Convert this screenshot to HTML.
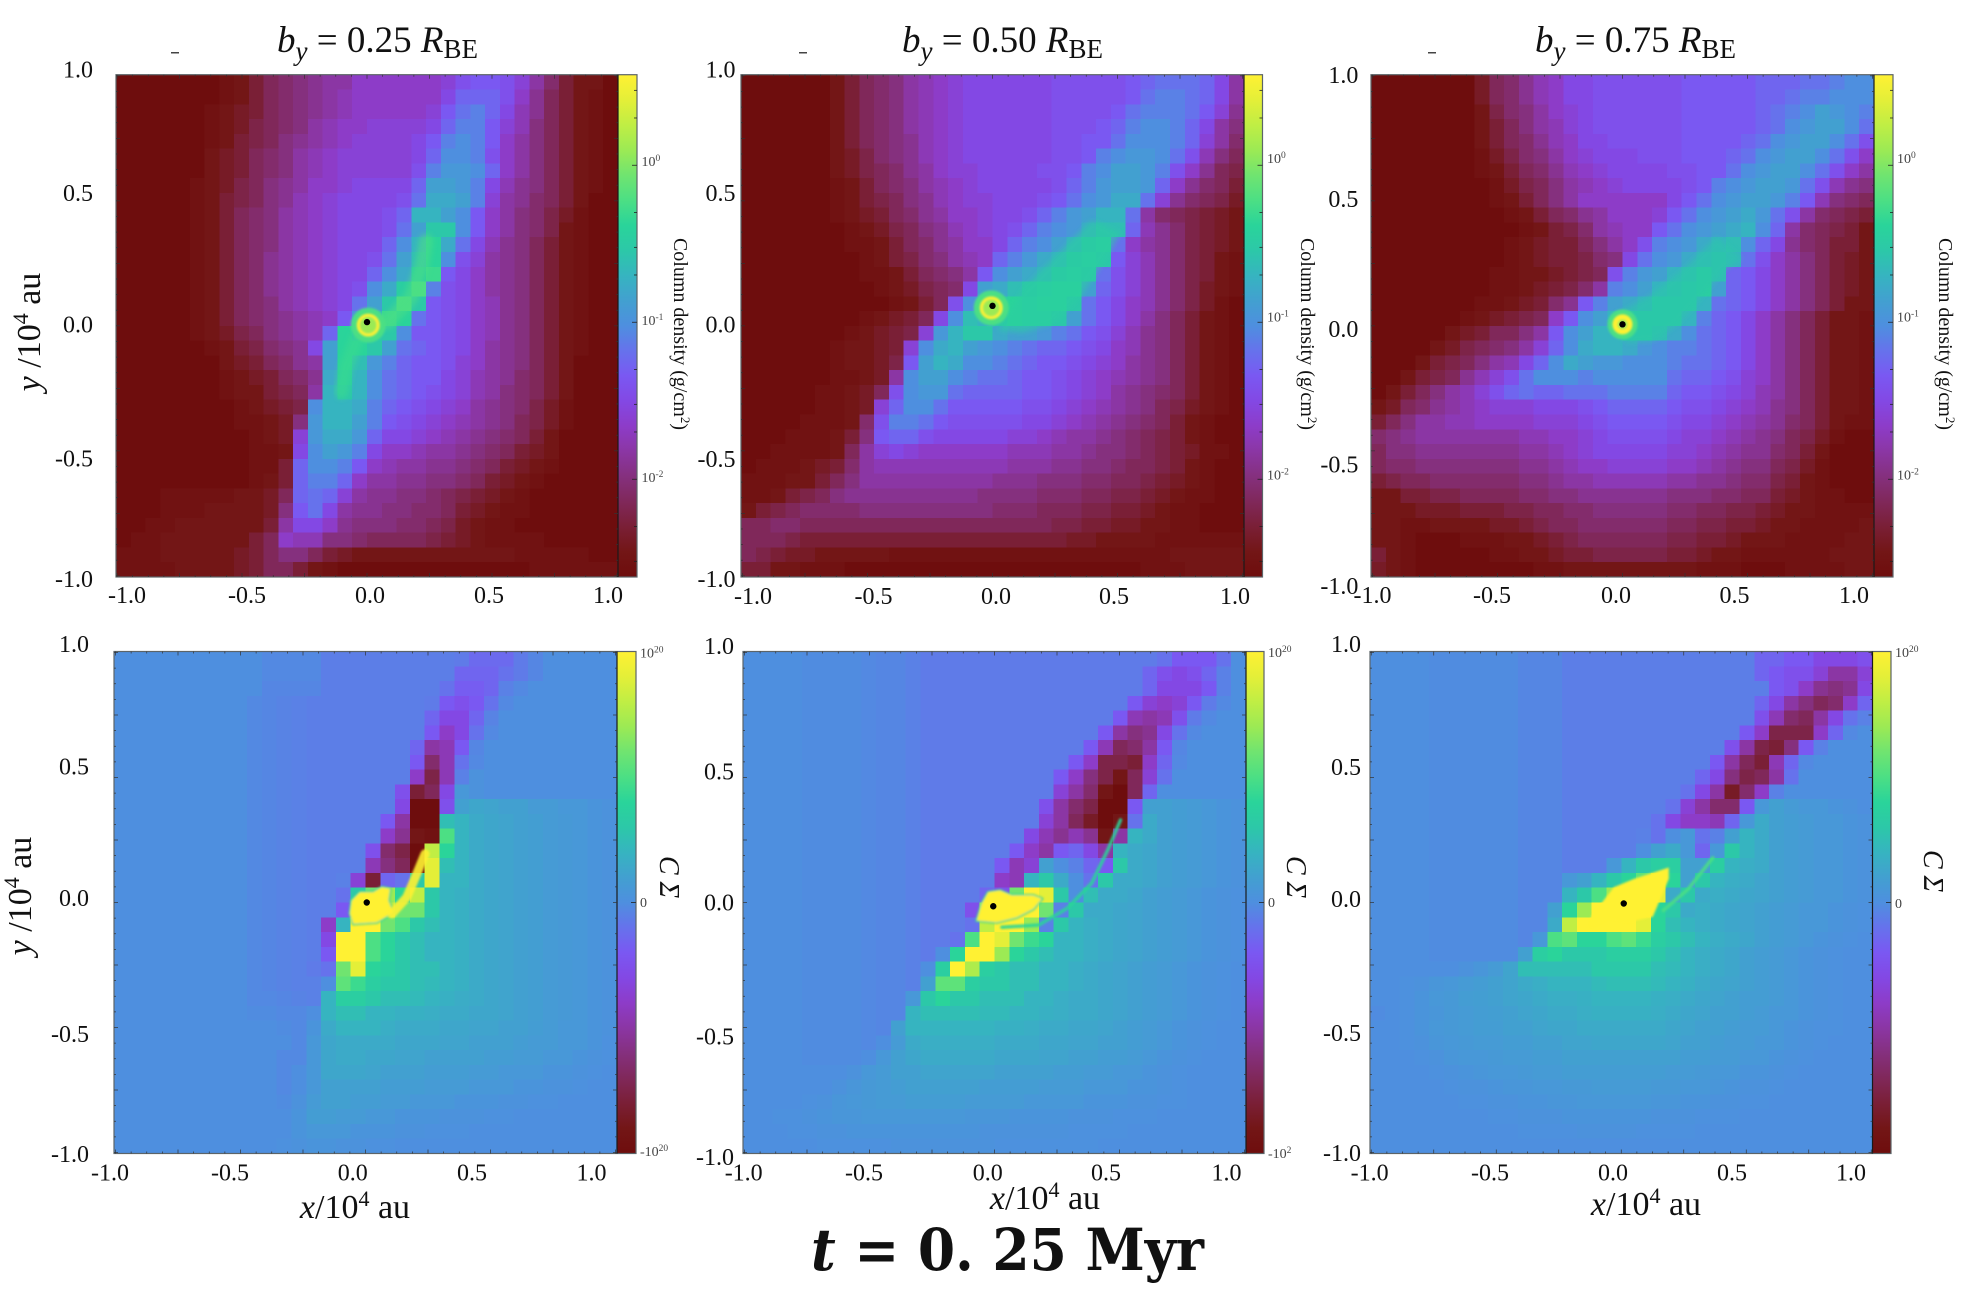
<!DOCTYPE html>
<html lang="en">
<head>
<meta charset="utf-8">
<title>t = 0.25 Myr column density and C Sigma maps</title>
<style>
html,body{margin:0;padding:0;background:#fff;}
svg{display:block;}
text{font-family:"Liberation Serif",serif;fill:#111;}
.tick{font-size:24px;}
.cb{font-size:14px;fill:#444;}
.ax{font-size:34px;}
</style>
</head>
<body>
<svg id="figure" width="1968" height="1290" viewBox="0 0 1968 1290" xmlns="http://www.w3.org/2000/svg">
<defs>
<linearGradient id="cbarGradient" x1="0" y1="1" x2="0" y2="0"></linearGradient>
<filter id="soft" x="-30%" y="-30%" width="160%" height="160%"><feGaussianBlur stdDeviation="1"/></filter>
<filter id="softer" x="-50%" y="-50%" width="200%" height="200%"><feGaussianBlur stdDeviation="3"/></filter>
</defs>
<g id="plots"></g>

<g>
<text x="277" y="52" font-size="37"><tspan font-style="italic">b</tspan><tspan font-style="italic" font-size="27" dy="8">y</tspan><tspan dy="-8"> = 0.25 </tspan><tspan font-style="italic">R</tspan><tspan font-size="27" dy="6">BE</tspan></text>
<text x="902" y="52" font-size="37"><tspan font-style="italic">b</tspan><tspan font-style="italic" font-size="27" dy="8">y</tspan><tspan dy="-8"> = 0.50 </tspan><tspan font-style="italic">R</tspan><tspan font-size="27" dy="6">BE</tspan></text>
<text x="1535" y="52" font-size="37"><tspan font-style="italic">b</tspan><tspan font-style="italic" font-size="27" dy="8">y</tspan><tspan dy="-8"> = 0.75 </tspan><tspan font-style="italic">R</tspan><tspan font-size="27" dy="6">BE</tspan></text>
<rect x="171" y="52" width="8" height="1.5" fill="#444"/>
<rect x="799" y="52" width="8" height="1.5" fill="#444"/>
<rect x="1428" y="52" width="8" height="1.5" fill="#444"/>
</g>

<g class="tick">
<text class="tick" x="93" y="77.5" text-anchor="end">1.0</text>
<text class="tick" x="93" y="201" text-anchor="end">0.5</text>
<text class="tick" x="93" y="332.6" text-anchor="end">0.0</text>
<text class="tick" x="93" y="466.5" text-anchor="end">-0.5</text>
<text class="tick" x="93" y="587" text-anchor="end">-1.0</text>
<text class="tick" x="127" y="603" text-anchor="middle">-1.0</text>
<text class="tick" x="247" y="603" text-anchor="middle">-0.5</text>
<text class="tick" x="370" y="603" text-anchor="middle">0.0</text>
<text class="tick" x="489" y="603" text-anchor="middle">0.5</text>
<text class="tick" x="608" y="603" text-anchor="middle">1.0</text>
</g>
<g>
<text class="tick" x="735.5" y="77.5" text-anchor="end">1.0</text>
<text class="tick" x="735.5" y="201" text-anchor="end">0.5</text>
<text class="tick" x="735.5" y="332.6" text-anchor="end">0.0</text>
<text class="tick" x="735.5" y="467" text-anchor="end">-0.5</text>
<text class="tick" x="735.5" y="587" text-anchor="end">-1.0</text>
<text class="tick" x="753" y="604" text-anchor="middle">-1.0</text>
<text class="tick" x="873.5" y="604" text-anchor="middle">-0.5</text>
<text class="tick" x="996" y="604" text-anchor="middle">0.0</text>
<text class="tick" x="1114" y="604" text-anchor="middle">0.5</text>
<text class="tick" x="1235" y="604" text-anchor="middle">1.0</text>
</g>
<g>
<text class="tick" x="1358.4" y="83" text-anchor="end">1.0</text>
<text class="tick" x="1358.4" y="207" text-anchor="end">0.5</text>
<text class="tick" x="1358.4" y="337" text-anchor="end">0.0</text>
<text class="tick" x="1358.4" y="472.6" text-anchor="end">-0.5</text>
<text class="tick" x="1358.4" y="594" text-anchor="end">-1.0</text>
<text class="tick" x="1372.5" y="603" text-anchor="middle">-1.0</text>
<text class="tick" x="1492" y="603" text-anchor="middle">-0.5</text>
<text class="tick" x="1616" y="603" text-anchor="middle">0.0</text>
<text class="tick" x="1734.5" y="603" text-anchor="middle">0.5</text>
<text class="tick" x="1854" y="603" text-anchor="middle">1.0</text>
</g>
<g>
<text class="tick" x="89" y="652" text-anchor="end">1.0</text>
<text class="tick" x="89" y="774.7" text-anchor="end">0.5</text>
<text class="tick" x="89" y="906" text-anchor="end">0.0</text>
<text class="tick" x="89" y="1041.8" text-anchor="end">-0.5</text>
<text class="tick" x="89" y="1162" text-anchor="end">-1.0</text>
<text class="tick" x="110" y="1180.7" text-anchor="middle">-1.0</text>
<text class="tick" x="230" y="1180.7" text-anchor="middle">-0.5</text>
<text class="tick" x="352.7" y="1180.7" text-anchor="middle">0.0</text>
<text class="tick" x="472" y="1180.7" text-anchor="middle">0.5</text>
<text class="tick" x="591.5" y="1180.7" text-anchor="middle">1.0</text>
</g>
<g>
<text class="tick" x="734" y="654" text-anchor="end">1.0</text>
<text class="tick" x="734" y="779.4" text-anchor="end">0.5</text>
<text class="tick" x="734" y="910.7" text-anchor="end">0.0</text>
<text class="tick" x="734" y="1044.6" text-anchor="end">-0.5</text>
<text class="tick" x="734" y="1165" text-anchor="end">-1.0</text>
<text class="tick" x="743.7" y="1180.5" text-anchor="middle">-1.0</text>
<text class="tick" x="864" y="1180.5" text-anchor="middle">-0.5</text>
<text class="tick" x="987.8" y="1180.5" text-anchor="middle">0.0</text>
<text class="tick" x="1106" y="1180.5" text-anchor="middle">0.5</text>
<text class="tick" x="1226.5" y="1180.5" text-anchor="middle">1.0</text>
</g>
<g>
<text class="tick" x="1361" y="652" text-anchor="end">1.0</text>
<text class="tick" x="1361" y="775" text-anchor="end">0.5</text>
<text class="tick" x="1361" y="907" text-anchor="end">0.0</text>
<text class="tick" x="1361" y="1041" text-anchor="end">-0.5</text>
<text class="tick" x="1361" y="1161" text-anchor="end">-1.0</text>
<text class="tick" x="1369.6" y="1180.5" text-anchor="middle">-1.0</text>
<text class="tick" x="1490" y="1180.5" text-anchor="middle">-0.5</text>
<text class="tick" x="1613" y="1180.5" text-anchor="middle">0.0</text>
<text class="tick" x="1732" y="1180.5" text-anchor="middle">0.5</text>
<text class="tick" x="1851" y="1180.5" text-anchor="middle">1.0</text>
</g>

<g>
<text class="ax" text-anchor="middle" transform="translate(40 332) rotate(-90)"><tspan font-style="italic">y</tspan> /10<tspan font-size="22" dy="-12">4</tspan><tspan dy="12"> au</tspan></text>
<text class="ax" text-anchor="middle" transform="translate(31 896) rotate(-90)"><tspan font-style="italic">y</tspan> /10<tspan font-size="22" dy="-12">4</tspan><tspan dy="12"> au</tspan></text>
<text class="ax" text-anchor="middle" x="355" y="1218"><tspan font-style="italic">x</tspan>/10<tspan font-size="22" dy="-12">4</tspan><tspan dy="12"> au</tspan></text>
<text class="ax" text-anchor="middle" x="1045" y="1209"><tspan font-style="italic">x</tspan>/10<tspan font-size="22" dy="-12">4</tspan><tspan dy="12"> au</tspan></text>
<text class="ax" text-anchor="middle" x="1646" y="1215"><tspan font-style="italic">x</tspan>/10<tspan font-size="22" dy="-12">4</tspan><tspan dy="12"> au</tspan></text>
</g>

<g>
<text class="cb" x="641.5" y="166">10<tspan font-size="9.5" dy="-5">0</tspan></text>
<text class="cb" x="641.5" y="325">10<tspan font-size="9.5" dy="-5">-1</tspan></text>
<text class="cb" x="641.5" y="482">10<tspan font-size="9.5" dy="-5">-2</tspan></text>
<text class="cb" x="1267" y="163">10<tspan font-size="9.5" dy="-5">0</tspan></text>
<text class="cb" x="1267" y="321.6">10<tspan font-size="9.5" dy="-5">-1</tspan></text>
<text class="cb" x="1267" y="479.6">10<tspan font-size="9.5" dy="-5">-2</tspan></text>
<text class="cb" x="1897" y="163">10<tspan font-size="9.5" dy="-5">0</tspan></text>
<text class="cb" x="1897" y="321.6">10<tspan font-size="9.5" dy="-5">-1</tspan></text>
<text class="cb" x="1897" y="479.6">10<tspan font-size="9.5" dy="-5">-2</tspan></text>
<text font-size="20" text-anchor="middle" transform="translate(674 334) rotate(90)">Column density (g/cm<tspan font-size="13" dy="-7">2</tspan><tspan dy="7">)</tspan></text>
<text font-size="20" text-anchor="middle" transform="translate(1301 334) rotate(90)">Column density (g/cm<tspan font-size="13" dy="-7">2</tspan><tspan dy="7">)</tspan></text>
<text font-size="20" text-anchor="middle" transform="translate(1939 334) rotate(90)">Column density (g/cm<tspan font-size="13" dy="-7">2</tspan><tspan dy="7">)</tspan></text>

<text class="cb" x="640" y="657.6">10<tspan font-size="9.5" dy="-5">20</tspan></text>
<text class="cb" x="640" y="907">0</text>
<text class="cb" x="640" y="1156">-10<tspan font-size="9.5" dy="-5">20</tspan></text>
<text class="cb" x="1268" y="657">10<tspan font-size="9.5" dy="-5">20</tspan></text>
<text class="cb" x="1268" y="907">0</text>
<text class="cb" x="1268" y="1158">-10<tspan font-size="9.5" dy="-5">2</tspan></text>
<text class="cb" x="1895" y="657">10<tspan font-size="9.5" dy="-5">20</tspan></text>
<text class="cb" x="1895" y="908">0</text>
<text font-size="28" font-style="italic" text-anchor="middle" transform="translate(660 877) rotate(90)">C Σ</text>
<text font-size="28" font-style="italic" text-anchor="middle" transform="translate(1287 877) rotate(90)">C Σ</text>
<text font-size="28" font-style="italic" text-anchor="middle" transform="translate(1924 871) rotate(90)">C Σ</text>
</g>

<text x="811" y="1270" font-size="58" font-weight="bold" textLength="393" lengthAdjust="spacingAndGlyphs" style="font-family:'DejaVu Serif',serif"><tspan font-style="italic">t</tspan> = 0. 25 Myr</text>
</svg>

<script>
// Column density maps, colormap level (0 = dark red, 20 = yellow), rows top to bottom
const sigmaBy025 = [
[0,0,0,0,0,0,0,.5,1,2,3,3.5,4,4.5,5,5,6,6,6,6,6,6,6.5,7.5,8,8,7.5,6.5,5,3.5,2,1,1,0],
[0,0,0,0,0,0,0,.5,1,2,3,3.5,4,4.5,5,5.5,6,6,6,6,6,6,7,8.5,8.5,8.5,7.5,6,4.5,3,2,1,.5,0],
[0,0,0,0,0,0,.5,1,1.5,2,3,3.5,4,4.5,5,5.5,6,6,6,6,6,6.5,8,9,9.5,8.5,7,5.5,4.5,3,2,1,.5,0],
[0,0,0,0,0,0,.5,1,1.5,2.5,3,3.5,4,5,5.5,6,6,6.5,6.5,6.5,6.5,7,8.5,9.5,9.5,8,6.5,5.5,4,3,2,1,.5,0],
[0,0,0,0,0,0,.5,1,2,2.5,3,4,4.5,5,5.5,6,6.5,6.5,6.5,6.5,7,8,9.5,10,9.5,8,6,5,4,3,2,1,.5,0],
[0,0,0,0,0,0,1,1.5,2,3,3.5,4,5,5.5,6,6.5,6.5,6.5,6.5,6.5,7,8.5,10,10,9.5,7.5,6,5,4,3,2,1,.5,0],
[0,0,0,0,0,0,1,1.5,2,3,3.5,4,5,5.5,6,6.5,6.5,6.5,6.5,6.5,7.5,9.5,10.5,10.5,10,8.5,6,5,4,3,2,1,.5,0],
[0,0,0,0,0,.5,1,1.5,2.5,3,4,4.5,5,6,6,6.5,7,7,7,7,8.5,11,11,10.5,9.5,7,5.5,4.5,4,3,2,1,.5,0],
[0,0,0,0,0,.5,1,2,2.5,3,4,4.5,5.5,6,6.5,7,7,7,7,7.5,9,11.5,11.5,11,9.5,6.5,5,4.5,3.5,3,2,1,0,0],
[0,0,0,0,0,.5,1,2,3,3.5,4,5,5.5,6,6.5,7,7,7,7.5,8.5,12,12,11,10,8,6,5,4,3.5,2.5,1.5,.5,0,0],
[0,0,0,0,0,.5,1,2,3,3.5,4,5,5.5,6,6.5,7,7,7,7.5,9,11,13,13,10,8,6,5,4,3.5,2.5,1,.5,0,0],
[0,0,0,0,0,.5,1,2,3,3.5,4,5,5.5,6,6.5,7,7,7,8.5,10,12,14,11.5,9,7,5.5,4.5,4,3,2,1,.5,0,0],
[0,0,0,0,0,.5,1,2,3,3.5,4.5,5,5.5,6,6.5,7,7,7.5,9,11,12.5,14,10,7.5,6.5,5,4.5,4,3,2,1,.5,0,0],
[0,0,0,0,0,.5,1,2,3,3.5,4.5,5,5.5,6,6.5,7,7,8.5,10,11.5,13.5,14.5,8,7,6,5,4.5,4,3,2,1,.5,0,0],
[0,0,0,0,0,.5,1,2,3,3.5,4.5,5,5.5,6,6.5,7,7.5,10,11.5,13.5,15,9.5,7.5,7,6,5,4.5,4,3,2,1,.5,0,0],
[0,0,0,0,0,.5,1,2,3,3.5,4,5,5.5,6,6.5,7,9,11,13,15,13,8,7.5,7,6,5.5,4.5,4,3,2,1,.5,0,0],
[0,0,0,0,0,.5,1,2,3,3.5,4,4.5,5,5.5,6,8,10,12,14.5,14,9,8,7.5,7,6,5.5,4.5,4,3,2,1,.5,0,0],
[0,0,0,0,0,.5,1,1.5,2.5,3,4,4.5,5,5.5,8.5,14,13,13,13,10,8,8,7.5,7,6,5.5,4.5,4,3,2,1,.5,0,0],
[0,0,0,0,0,0,.5,1,2,2.5,3.5,4,4.5,7,11,14,14,13,11,9,8.5,8,7.5,7,6,5,4.5,4,3,2,1,.5,0,0],
[0,0,0,0,0,0,0,1,1.5,2,3,3.5,4.5,5,11,14,12.5,10.5,9.5,8.5,8,8,7.5,6.5,6,5,4.5,4,3,2,1,0,0,0],
[0,0,0,0,0,0,0,.5,1,1.5,2,3,3.5,4.5,11.5,13.5,12,10,9,8.5,8,8,7,6.5,5.5,5,4.5,3.5,3,2,1,0,0,0],
[0,0,0,0,0,0,0,.5,1,1,2,2.5,3,5,12,13,12,10,9,8.5,8,7.5,7,6.5,5.5,5,4,3.5,3,2,1,0,0,0],
[0,0,0,0,0,0,0,0,.5,1,1.5,2,2.5,10,12,12,11.5,9.5,8.5,8,7.5,7,6.5,6,5,4.5,4,3.5,2.5,1.5,.5,0,0,0],
[0,0,0,0,0,0,0,0,.5,.5,1,1.5,4,10.5,12,12,11,9.5,8,7.5,7,6.5,6,5.5,5,4.5,4,3,2.5,1.5,.5,0,0,0],
[0,0,0,0,0,0,0,0,0,.5,1,1.5,6.5,10.5,11.5,11.5,10.5,8.5,7,7,6.5,6,5.5,5,4.5,4,3.5,3,2,1,0,0,0,0],
[0,0,0,0,0,0,0,0,0,.5,.5,1,7,10,11,10.5,9.5,7,6,6,5.5,5,5,4.5,4,3.5,3,2,1.5,1,0,0,0,0],
[0,0,0,0,0,0,0,0,0,.5,.5,2,8.5,10,10,9.5,8,6,5.5,5,5,4.5,4.5,4,3.5,3,2,1.5,1,.5,0,0,0,0],
[0,0,0,0,0,0,0,0,0,.5,1,2,8.5,9.5,9.5,8.5,6,5,5,4.5,4.5,4,4,3.5,3,2,1.5,1,.5,0,0,0,0,0],
[0,0,0,.5,.5,.5,.5,.5,1,1,1.5,3,8.5,9,8.5,6.5,5,4.5,4.5,4,4,3.5,3,2.5,2,1.5,1,.5,0,0,0,0,0,0],
[0,0,0,.5,.5,.5,1,1,1,1,1.5,4,8,9,7,5,4.5,4.5,4,4,3.5,3.5,3,2,1.5,1,.5,.5,0,0,0,0,0,0],
[0,0,.5,.5,1,1,1,1,1,1,2,5,7,7,6,4.5,4,4,4,3.5,3.5,3,2.5,1.5,1,.5,.5,0,0,0,0,0,0,0],
[0,.5,.5,1,1,1,1,1,1,2,3,6,5.5,5.5,4,4,3.5,3,3,3,3,2.5,2,1.5,1,.5,.5,.5,.5,0,0,0,0,0],
[.5,.5,.5,1,1,1,1,1,1.5,2,3,4,4,3,2,1.5,1,1,1,1,1,1,1,1,1,1,1,.5,.5,.5,.5,.5,0,0],
[.5,.5,.5,.5,1,1,1,1,1.5,2,3,3,2,1,.5,0,0,0,0,0,0,0,0,0,0,0,0,0,.5,.5,.5,.5,.5,.5]
];
const sigmaBy050 = [
[0,0,0,0,0,0,1,2,3,3.5,4,5,5.5,6,6.5,7,7,7,7,7,7,7.5,7.5,7.5,7.5,7.5,8,8.5,9,9,9,8.5,7,5],
[0,0,0,0,0,0,1,2,3,3.5,4,5,5.5,6,6.5,7,7,7,7,7,7,7.5,7.5,7.5,7.5,7.5,8,9,9.5,9.5,9,8.5,7,5],
[0,0,0,0,0,0,1,2,3,3.5,4,5,5.5,6,6.5,7,7,7,7,7,7,7.5,7.5,7.5,7.5,8,9,9.5,9.5,9.5,9,8,6.5,4.5],
[0,0,0,0,0,0,1,2,3,3.5,4,5,5.5,6,6.5,7,7,7,7,7,7,7.5,7.5,7.5,8,8.5,9.5,10,10,9.5,8.5,7,5,4],
[0,0,0,0,0,0,1,2,3,3.5,4,4.5,5.5,6,6.5,7,7,7,7,7,7,7.5,7.5,8,8,9,10,10,10,9.5,8.5,6.5,5,3.5],
[0,0,0,0,0,0,1,1.5,2.5,3.5,4,4.5,5.5,6,6.5,7,7,7,7,7,7,7.5,7.5,8,9.5,10,10.5,10.5,10,9,7.5,5.5,4,3],
[0,0,0,0,0,0,1,1.5,2.5,3,3.5,4.5,5,6,6.5,6.5,7,7,7,7,7.5,7.5,8,9.5,10,11,11,10.5,9.5,7.5,6,4.5,3,2.5],
[0,0,0,0,0,0,.5,1,2,3,3.5,4,5,5.5,6,6.5,7,7,7,7,7,7.5,8.5,9.5,10.5,11,11,10.5,8.5,6,4.5,3.5,3,2],
[0,0,0,0,0,0,.5,1,2,2.5,3,4,4.5,5.5,6,6.5,6.5,7,7,7,7.5,8,9,10,10.5,11.5,11.5,9,6.5,4.5,3.5,3,2.5,1.5],
[0,0,0,0,0,0,.5,1,1.5,2,3,3.5,4.5,5,6,6,6.5,7,7,7.5,8.5,9.5,10.5,11,12,12,9,5,3.5,3,2.5,2,1.5,1],
[0,0,0,0,0,0,0,.5,1,1.5,2.5,3,4,4.5,5.5,6,6.5,7,7.5,8.5,9.5,10,10.5,11.5,12.5,12.5,8.5,5.5,4.5,3.5,2.5,2,1.5,1],
[0,0,0,0,0,0,0,.5,.5,1,2,3,3.5,4.5,5,6,6,7,8.5,9.5,10,11,12,13,13.5,9,6,5,4.5,3.5,2.5,2,1.5,1],
[0,0,0,0,0,0,0,0,.5,1,2,2.5,3.5,4,5,5.5,6,8.5,9.5,10.5,11.5,12,13,13.5,13,8,6.5,5.5,4.5,3.5,2.5,2,1,.5],
[0,0,0,0,0,0,0,0,.5,.5,1,2,3,3.5,4,5,8,10,11,11.5,12,13,13.5,13,9,7.5,6.5,5.5,4.5,3.5,2.5,2,1,.5],
[0,0,0,0,0,0,0,0,0,.5,1,1.5,2.5,3,3.5,7,11,11.5,12.5,13,13.5,14,14,11,8.5,7.5,6.5,5.5,4.5,3.5,2.5,1.5,1,.5],
[0,0,0,0,0,0,0,0,0,0,.5,1,2,3,7.5,10,12,13,14,13.5,14,14,13,9,8,7,6,5.5,4.5,3.5,2.5,1.5,.5,0],
[0,0,0,0,0,0,0,0,.5,1,1.5,2,3,7,10,12.5,12,13,14,13.5,13.5,13,11,9,8,7,6,5,4,3,2,1,.5,0],
[0,0,0,0,0,0,0,.5,1,1.5,2,2.5,6.5,10.5,12,13,13,11.5,11,11,10.5,9.5,9,8,7.5,6.5,5.5,4.5,4,3,2,1,.5,0],
[0,0,0,0,0,0,.5,1,1,1.5,2,6.5,10,11.5,12,11,10.5,10,9.5,9,8.5,8.5,8,7.5,7,6,5.5,4.5,4,3,2,1,.5,0],
[0,0,0,0,0,0,.5,1,1,1.5,2.5,8,11,12,11.5,10,10,9.5,9,8.5,8,8,7.5,7,6.5,6,5,4.5,4,3,2,1,.5,0],
[0,0,0,0,0,0,.5,.5,1,1.5,5,10,11,11,10,9.5,9,9,8.5,8,8,7.5,7,6.5,6,5.5,5,4.5,4,3,2,1,.5,0],
[0,0,0,0,0,.5,.5,1,1.5,3,7.5,10,10.5,10.5,9,8.5,8.5,8.5,8.5,8,8,7.5,7,6.5,6,5,4.5,4,3.5,3,2,1,.5,0],
[0,0,0,0,0,.5,.5,1,1.5,6.5,8.5,10,10,9,8,8,8,8,8,7.5,7.5,7,6.5,6,5.5,5,4.5,4,3,2.5,1.5,1,.5,0],
[0,0,0,0,.5,.5,.5,1,3.5,7.5,9.5,9.5,9,8,7.5,7.5,7.5,7.5,7.5,7,7,6.5,6,5.5,5,4.5,4,3.5,3,2,1,.5,0,0],
[0,0,0,.5,.5,.5,1,2,4,8,8.5,8.5,7.5,7,7,7,7,7,6.5,6.5,6,5.5,5,5,4.5,4,3.5,3,2.5,2,1,.5,0,0],
[0,0,.5,.5,.5,.5,1,3,5,6.5,7,6.5,6,6,6,6,6,6,5.5,5.5,5.5,5,5,4.5,4,4,3.5,3,2.5,2,1.5,.5,.5,0],
[0,.5,.5,.5,1,1.5,2,3.5,5,5.5,5.5,5.5,5.5,5.5,5.5,5.5,5.5,5.5,5,5,5,4.5,4.5,4,4,3.5,3,3,2.5,2,1,.5,0,0],
[.5,.5,.5,1,1,2,3,4,5,5,5,5,5,5,5,5,5,4.5,4.5,4.5,4,4,4,3.5,3.5,3,3,2.5,2,1.5,1,.5,0,0],
[.5,.5,1,2,2.5,3,4,4.5,4.5,4.5,4.5,4.5,4.5,4.5,4.5,4.5,4,4,4,4,3.5,3.5,3.5,3,3,2.5,2.5,2,1.5,1,.5,.5,0,0],
[1,2,2.5,3,3.5,3.5,3.5,3.5,4,4,4,4,4,4,4,4,4,3.5,3.5,3.5,3,3,3,2.5,2.5,2,2,1.5,1,.5,.5,0,0,0],
[3,3,3.5,3.5,3,3,3,3,3,3,3,3,3,3,3,3,3,3,3,3,3,2.5,2.5,2,2,1.5,1.5,1,1,.5,.5,0,0,0],
[3,3,3,2.5,2,2,2,2,2,2,2,2,2,2,2,2,2,2,2,2,2,2,1.5,1.5,1,1,1,1,.5,.5,.5,.5,.5,.5],
[3,2.5,2,1.5,1.5,1,1,1,1,1,.5,.5,.5,.5,.5,.5,.5,.5,.5,.5,.5,.5,.5,.5,.5,.5,.5,.5,.5,1,1,1,1,1],
[2,2,1,1,.5,.5,.5,0,0,0,0,0,0,0,0,0,0,0,0,0,0,0,0,0,0,0,0,.5,.5,.5,1,1,1,1]
];
const sigmaBy075 = [
[0,0,0,0,0,0,0,1.5,3,3.5,4.5,5.5,6,7,7,7.5,7.5,7.5,7.5,7.5,7.5,8,8,8,8,8,8.5,8.5,8.5,9,9,9.5,10,10],
[0,0,0,0,0,0,0,1.5,3,3.5,4.5,5.5,6,7,7,7.5,7.5,7.5,7.5,7.5,7.5,8,8,8,8,8,8.5,8.5,9,9.5,9.5,10,10,10],
[0,0,0,0,0,0,0,1,2.5,3.5,4,5,6,6.5,7,7.5,7.5,7.5,7.5,7.5,7.5,8,8,8,8,8,8.5,9,9.5,10,11,10.5,10,9.5],
[0,0,0,0,0,0,0,1,2,3,4,5,5.5,6.5,7,7.5,7.5,7.5,7.5,7.5,7.5,8,8,8,8,8,8.5,9,10,10.5,11,11,10,9],
[0,0,0,0,0,0,0,1,2,3,3.5,4.5,5.5,6,7,7,7.5,7.5,7.5,7.5,7.5,8,8,8,8,8.5,9,10,10.5,11,11,10,9,7.5],
[0,0,0,0,0,0,0,.5,1.5,2.5,3.5,4,5,6,6.5,7,7,7,7.5,7.5,7.5,8,8,8,8.5,9,10,10.5,11,11,10,9,7.5,6],
[0,0,0,0,0,0,0,.5,1,2,3,3.5,4.5,5.5,6,6.5,7,7,7,7,7.5,7.5,8,8,9,10,10.5,11,11,10,9,7.5,6,5],
[0,0,0,0,0,0,0,0,.5,1.5,2.5,3,4,5,5.5,6,6.5,7,7,7,7,7.5,8,9.5,10,10.5,11,11,10.5,9,7.5,5.5,4.5,4],
[0,0,0,0,0,0,0,0,.5,1,2,3,4,5,6,6,6,6,6,6,7,8,9,10,10.5,11,11,10.5,9.5,8,5.5,4,3.5,3],
[0,0,0,0,0,0,0,0,0,.5,1,2,3,3.5,4.5,5,6,6,6,6.5,8,9,10,10.5,11,11.5,10.5,9,7.5,5,3.5,3,2.5,2],
[0,0,0,0,0,0,0,0,0,0,.5,1,2,2.5,3.5,5,5.5,6,6,8,9,10,10.5,11,11.5,12,10,8.5,5,3.5,3,2.5,2,1],
[0,0,0,0,0,0,0,0,0,.5,1,1.5,2,2,3,4,5,6,7.5,9.5,10,10.5,11.5,12,12.5,10,8.5,7,4.5,3.5,3,2,2,1],
[0,0,0,0,0,0,0,0,0,.5,1,1.5,2,2,2.5,3.5,4,7,9,10,10.5,11.5,12,12.5,12,9,7.5,6,5,4,3,2,1.5,1],
[0,0,0,0,0,0,0,0,.5,.5,1,1,1.5,2,2.5,3,7.5,9.5,10.5,11,12,12.5,13.5,12.5,8.5,8,7,6,5,4,3,2,1.5,1],
[0,0,0,0,0,0,0,0,.5,.5,1,1.5,2,2.5,3.5,5,9.5,10,11,12,12.5,13,13.5,11,8.5,8,7,6,5,4,3,2,1.5,1],
[0,0,0,0,0,0,0,.5,.5,1,1.5,2,3.5,4.5,8,9.5,11,11.5,12,13,13,13,12,9,8.5,8,7,6,5,4,3,2,1,1],
[0,0,0,0,0,0,.5,1,1.5,2,2.5,3,6,8,10,11,12,13,13,13,13,12,9.5,8.5,8,7,6,5,4,3,2,1,1,.5],
[0,0,0,0,0,1,1.5,2,3,3,4,5,8,10,11,12,12,13,13,12.5,11.5,10,9,8.5,8,7,6,5,4,3,2,1,1,.5],
[0,0,0,0,1,1.5,2.5,3,3.5,4,5,6.5,8.5,10,11.5,12,12,11.5,10.5,10,9.5,9.5,9,8.5,8,7,6,5,4,3,2,1,1,.5],
[0,0,0,1,2,2.5,3,4,5,5.5,7,8.5,10,11.5,11,10.5,10.5,10,10,10,9.5,9,9,8.5,8,7,6,5,4,3,2,1,1,.5],
[0,0,1,2,2.5,3,4.5,5.5,6.5,7.5,9,10,10,10,9.5,10,10,10,10,10,9,8.5,8.5,8,7.5,6.5,6,5,4,3,2,1,1,.5],
[0,1,2,3,4,5,5.5,6.5,7.5,8.5,9,8.5,8.5,9,9,9,9.5,9.5,9.5,9.5,8.5,8,8,7.5,7,6.5,5.5,5,4,3,2,1,1,.5],
[1,1.5,3,3.5,4.5,5,5.5,6,6.5,6.5,6.5,7,7,7,7.5,8,8.5,8.5,8.5,8.5,8,7.5,7.5,7,6.5,6,5.5,4.5,4,3,2,1,1,.5],
[2,3,4,5,5,5.5,5.5,6,6,6,6,6.5,6.5,6.5,7,7.5,8,8,8,8,7.5,7,7,6.5,6,5.5,5,4.5,3.5,3,2,1,.5,.5],
[3.5,4,4.5,5,5,5,5,5,5,5,5.5,5.5,6,6,6.5,7,7.5,7.5,7.5,7.5,7,6.5,6.5,6,5.5,5,4.5,4,3,2.5,1.5,.5,0,0],
[3,4,4,4.5,4.5,4.5,4.5,4.5,4.5,4.5,5,5,5.5,6,6.5,7,7,7,7,7,6.5,6.5,6,5.5,5,4.5,4.5,3.5,3,2,1,0,0,0],
[3,3.5,3.5,4,4,4,4,4,4,4,4.5,4.5,5,5.5,6,6,6.5,6.5,6.5,6.5,6,6,5.5,5,4.5,4,4,3,2.5,1.5,.5,0,0,0],
[2,2.5,3,3,3.5,3.5,3.5,3.5,3.5,3.5,4,4,4.5,5,5,5.5,5.5,5.5,5.5,5.5,5,5,4.5,4.5,4,3.5,3.5,2.5,2,1,.5,0,0,0],
[1,1,2,2,2.5,2.5,3,3,3,3,3.5,3.5,4,4,4.5,4.5,4.5,4.5,4.5,4.5,4,4,4,3.5,3.5,3,3,2,1.5,1,.5,.5,0,0],
[1,1,1,1.5,1.5,1.5,2,2,2,2.5,2.5,3,3,3.5,3.5,4,4,4,4,4,3.5,3.5,3,3,2.5,2.5,2,1.5,1,1,.5,.5,.5,.5],
[1,1,.5,.5,1,1,1,1,1.5,1.5,2,2.5,3,3,3.5,3.5,3.5,3.5,3.5,3.5,3,3,2.5,2.5,2,2,1.5,1,1,.5,.5,.5,.5,1],
[1,1,.5,0,0,0,.5,.5,.5,1,1,1.5,2,2.5,3,3,3,3,3,3,2.5,2.5,2,2,1.5,1,1,1,.5,.5,.5,.5,1,1],
[2,1,.5,0,0,0,0,0,.5,.5,1,1,1.5,2,2,2.5,2.5,2.5,2.5,2.5,2,2,1.5,1,1,.5,.5,.5,.5,.5,.5,1,1,1],
[1.5,1,.5,0,0,0,0,0,0,0,0,.5,.5,1,1,1,1,1,1,1,1,1,.5,.5,.5,0,0,0,.5,.5,.5,.5,1,1]
];
// C Sigma maps, same level scale (10 = zero)
const cSigmaBy025 = [
[10,10,10,10,10,10,10,10,10,10,9.8,9.8,9.8,9.8,9.4,9.4,9.4,9.4,9.4,9.4,9.4,9.4,9.4,9.3,8.7,8.7,8.7,9.3,9.7,10,10,10,10,10],
[10,10,10,10,10,10,10,10,10,10,9.8,9.8,9.8,9.8,9.4,9.4,9.4,9.4,9.4,9.4,9.4,9.4,9.4,8.5,8.5,8.5,9,9.3,9.7,10,10,10,10,10],
[10,10,10,10,10,10,10,10,10,10,9.7,9.7,9.7,9.7,9.4,9.4,9.4,9.4,9.4,9.4,9.4,9.4,9,8.2,8.2,8.5,9.5,9.8,10,10,10,10,10,10],
[10,10,10,10,10,10,10,10,10,9.8,9.7,9.6,9.5,9.4,9.4,9.4,9.4,9.4,9.4,9.4,9.4,9.3,8,7.5,8,9,9.8,10,10,10,10,10,10,10],
[10,10,10,10,10,10,10,10,10,9.8,9.7,9.6,9.5,9.4,9.4,9.4,9.4,9.4,9.4,9.4,9.4,8.5,7,7,8.5,9.6,10,10,10,10,10,10,10,10],
[10,10,10,10,10,10,10,10,10,9.8,9.7,9.6,9.5,9.4,9.4,9.4,9.4,9.4,9.4,9.4,9.4,8,6,7,9,9.8,10,10,10,10,10,10,10,10],
[10,10,10,10,10,10,10,10,10,9.8,9.7,9.6,9.5,9.4,9.4,9.4,9.4,9.4,9.4,9.4,8.5,5,5.5,8,9.7,10,10,10,10,10,10,10,10,10],
[10,10,10,10,10,10,10,10,10,9.8,9.7,9.6,9.5,9.4,9.4,9.4,9.4,9.4,9.4,9.4,8,3.5,5.5,9,9.8,10,10,10,10,10,10,10,10,10],
[10,10,10,10,10,10,10,10,10,9.8,9.7,9.6,9.5,9.4,9.4,9.4,9.4,9.4,9.4,9.4,6,2.5,5.5,9.5,10.2,10,10,10,10,10,10,10,10,10],
[10,10,10,10,10,10,10,10,10,9.8,9.7,9.6,9.5,9.4,9.4,9.4,9.4,9.4,9.4,7.5,2,3,7,10.5,10.2,10,10,10,10,10,10,10,10,10],
[10,10,10,10,10,10,10,10,10,9.8,9.7,9.6,9.5,9.4,9.4,9.4,9.4,9.4,9.4,7,0,0,7.5,11,11.3,11.2,11,11,10.7,10.7,10.5,10.5,10.3,10.2],
[10,10,10,10,10,10,10,10,10,9.8,9.7,9.6,9.5,9.4,9.4,9.4,9.4,9.4,8,5,0,0,12.5,12,11.5,11.3,11.2,11,10.9,10.7,10.6,10.5,10.3,10.2],
[10,10,10,10,10,10,10,10,10,9.8,9.7,9.6,9.5,9.4,9.4,9.4,9.4,9.4,6,4.5,1,.5,15,12,11.5,11.3,11.2,11,10.9,10.7,10.6,10.5,10.3,10.2],
[10,10,10,10,10,10,10,10,10,9.8,9.7,9.6,9.5,9.4,9.4,9.4,9.4,7.5,3.5,2.5,0,18,14,12,11.5,11.3,11.2,11,10.9,10.7,10.6,10.5,10.3,10.2],
[10,10,10,10,10,10,10,10,10,9.8,9.7,9.6,9.5,9.4,9.4,9.4,9.4,5.5,4,3,0,19,12.5,12,11.5,11.3,11.2,11,10.9,10.7,10.6,10.5,10.3,10.2],
[10,10,10,10,10,10,10,10,10,9.8,9.7,9.6,9.5,9.4,9.4,9.5,6.5,2,8.5,9,13,19,12,12,11.5,11.3,11.2,11,10.9,10.7,10.6,10.5,10.3,10.2],
[10,10,10,10,10,10,10,10,10,9.8,9.7,9.6,9.5,9.4,9.4,9,13,16,17,14,18,13,12,11.8,11.5,11.3,11.2,11,10.9,10.7,10.6,10.5,10.3,10.2],
[10,10,10,10,10,10,10,10,10,9.8,9.7,9.6,9.5,9.4,9.4,8,13,17,18,16,16,13,12,11.8,11.5,11.3,11.2,11,10.9,10.7,10.6,10.5,10.3,10.2],
[10,10,10,10,10,10,10,10,10,9.8,9.7,9.6,9.5,9.4,6,12,20,20,16,15,13,12.5,12,11.8,11.5,11.3,11.2,11,10.9,10.7,10.6,10.5,10.3,10.2],
[10,10,10,10,10,10,10,10,10,9.8,9.7,9.6,9.5,9.4,7,20,20,15,14,13,12.5,12,12,11.8,11.5,11.3,11.2,11,10.9,10.7,10.6,10.5,10.3,10.2],
[10,10,10,10,10,10,10,10,10,9.8,9.7,9.6,9.5,9.4,8,20,20,15,14,13,12.5,12,12,11.8,11.5,11.3,11.2,11,10.9,10.7,10.6,10.5,10.3,10.2],
[10,10,10,10,10,10,10,10,10,9.8,9.7,9.6,9.5,9.3,9,16,19,14,13.5,13,12.5,12.5,12,11.8,11.5,11.3,11.2,11,10.9,10.7,10.6,10.5,10.3,10.2],
[10,10,10,10,10,10,10,10,10,9.8,9.7,9.6,9.5,9.5,10,15.5,14.5,13.5,13,13,12.5,12.3,12,11.8,11.5,11.3,11.2,11,10.9,10.7,10.6,10.5,10.3,10.2],
[10,10,10,10,10,10,10,10,10,9.8,9.8,9.7,9.6,9.5,12,13.5,13.5,13,12.5,12.5,12.3,12,11.8,11.6,11.5,11.3,11.2,11,10.9,10.7,10.6,10.5,10.3,10.2],
[10,10,10,10,10,10,10,10,10,9.9,9.9,9.8,9.8,10,12,12.5,12.5,12,12,11.8,11.8,11.7,11.5,11.5,11.3,11.3,11.2,11,10.9,10.7,10.6,10.5,10.3,10.2],
[10,10,10,10,10,10,10,10,10,10,10,9.9,9.8,10.3,11.5,12,12,12,11.7,11.5,11.5,11.5,11.3,11.3,11.2,11.2,11,11,10.8,10.7,10.5,10.5,10.3,10.2],
[10,10,10,10,10,10,10,10,10,10,10,10,9.8,10.5,11.3,11.5,11.5,11.5,11.5,11.3,11.3,11.3,11.2,11.2,11,11,11,10.8,10.7,10.7,10.5,10.5,10.3,10.1],
[10,10,10,10,10,10,10,10,10,10,10,9.8,9.8,10.5,11.3,11.5,11.5,11.3,11.3,11.2,11.2,11,11,11,11,10.8,10.8,10.7,10.7,10.5,10.5,10.3,10.2,10.1],
[10,10,10,10,10,10,10,10,10,10,10,9.8,10,10.5,11.3,11.3,11.3,11.2,11,11,11,10.8,10.8,10.8,10.7,10.7,10.5,10.5,10.5,10.3,10.3,10.2,10.1,10],
[10,10,10,10,10,10,10,10,10,10,10,9.8,10,10.5,11,11,11,11,10.8,10.8,10.8,10.7,10.7,10.7,10.5,10.5,10.5,10.3,10.3,10.2,10.2,10.1,10,10],
[10,10,10,10,10,10,10,10,10,10,10,9.9,10.2,10.7,11,11,10.8,10.8,10.7,10.7,10.5,10.5,10.5,10.3,10.3,10.3,10.2,10.2,10.1,10.1,10,10,10,10],
[10,10,10,10,10,10,10,10,10,10,10,10,10.3,10.8,10.8,10.7,10.7,10.5,10.5,10.3,10.3,10.3,10.2,10.2,10.2,10.1,10.1,10,10,10,10,10,10,10],
[10,10,10,10,10,10,10,10,10,10,10,10,10.3,10.5,10.5,10.5,10.3,10.3,10.3,10.2,10.2,10.1,10.1,10.1,10,10,10,10,10,10,10,10,10,10],
[10,10,10,10,10,10,10,10,10,10,10,10.1,10.2,10.3,10.3,10.2,10.2,10.1,10.1,10,10,10,10,10,10,10,10,10,10,10,10,10,10,10]
];
const cSigmaBy050 = [
[10,10,10,10,9.9,9.9,9.9,9.9,9.8,9.7,9.7,9.5,9.3,9.3,9.3,9.3,9.3,9.3,9.3,9.3,9.3,9.3,9.3,9.3,9.3,9.3,9.3,9.3,9,8,8,8,9,10],
[10,10,10,10,9.9,9.9,9.9,9.9,9.8,9.7,9.7,9.5,9.3,9.3,9.3,9.3,9.3,9.3,9.3,9.3,9.3,9.3,9.3,9.3,9.3,9.3,9.3,8.5,7.5,7,7.5,8.5,9.5,10],
[10,10,10,10,9.9,9.9,9.9,9.9,9.8,9.7,9.7,9.5,9.3,9.3,9.3,9.3,9.3,9.3,9.3,9.3,9.3,9.3,9.3,9.3,9.3,9.3,9.3,8.5,7,7,7,8,9.5,10],
[10,10,10,10,9.9,9.9,9.9,9.9,9.8,9.7,9.7,9.5,9.3,9.3,9.3,9.3,9.3,9.3,9.3,9.3,9.3,9.3,9.3,9.3,9.3,9.3,8,6.5,6,6.5,8,9.3,9.8,10],
[10,10,10,10,9.9,9.9,9.9,9.9,9.8,9.7,9.7,9.5,9.3,9.3,9.3,9.3,9.3,9.3,9.3,9.3,9.3,9.3,9.3,9.3,9.3,8,5.5,5,5.5,7.5,9.3,9.8,10,10],
[10,10,10,10,9.9,9.9,9.9,9.9,9.8,9.7,9.7,9.5,9.3,9.3,9.3,9.3,9.3,9.3,9.3,9.3,9.3,9.3,9.3,9.3,8,5,4,4.5,7,9,9.8,10,10,10],
[10,10,10,10,9.9,9.9,9.9,9.9,9.8,9.7,9.7,9.5,9.3,9.3,9.3,9.3,9.3,9.3,9.3,9.3,9.3,9.3,9.3,8,5.5,3,3.5,5,8,9.7,10,10,10,10],
[10,10,10,10,9.9,9.9,9.9,9.9,9.8,9.7,9.7,9.5,9.3,9.3,9.3,9.3,9.3,9.3,9.3,9.3,9.3,9.3,8,6,2.5,2.5,2,6,8.5,9.8,10,10,10,10],
[10,10,10,10,9.9,9.9,9.9,9.9,9.8,9.7,9.7,9.5,9.3,9.3,9.3,9.3,9.3,9.3,9.3,9.3,9.3,8,6,4,2.5,1,3,6.5,9,10,10,10,10,10],
[10,10,10,10,9.9,9.9,9.9,9.9,9.8,9.7,9.7,9.5,9.3,9.3,9.3,9.3,9.3,9.3,9.3,9.3,9.3,6.5,5,3.5,1,0,3,8.5,10,10,10,10,10,10],
[10,10,10,10,9.9,9.9,9.9,9.9,9.8,9.7,9.7,9.5,9.3,9.3,9.3,9.3,9.3,9.3,9.3,9.3,7.5,5,3.5,2.5,0,0,8,11,11,10.8,10.7,10.5,10.3,10.2],
[10,10,10,10,9.9,9.9,9.9,9.9,9.8,9.7,9.7,9.5,9.3,9.3,9.3,9.3,9.3,9.3,9.3,9.3,6.5,5,3,1.5,0,1,9,11.5,11,10.8,10.7,10.5,10.3,10.2],
[10,10,10,10,9.9,9.9,9.9,9.9,9.8,9.7,9.7,9.5,9.3,9.3,9.3,9.3,9.3,9.3,9.3,7,5.5,4.5,5.5,4.5,1,5,12,11.5,11,10.8,10.7,10.5,10.3,10.2],
[10,10,10,10,9.9,9.9,9.9,9.9,9.8,9.7,9.7,9.5,9.3,9.3,9.3,9.3,9.3,9.3,8,6,5,8,8.5,7,5,12,11.5,11.3,11,10.8,10.7,10.5,10.3,10.2],
[10,10,10,10,9.9,9.9,9.9,9.9,9.8,9.7,9.7,9.5,9.3,9.3,9.3,9.3,9.3,8,5.5,6.5,11,10,9.5,8.5,8,13,11.5,11.3,11,10.8,10.7,10.5,10.3,10.2],
[10,10,10,10,9.9,9.9,9.9,9.9,9.8,9.7,9.7,9.5,9.3,9.3,9.3,9.3,9.3,6,5.5,12,13,11.5,10,9,13,11.5,11.5,11.3,11,10.8,10.7,10.5,10.3,10.2],
[10,10,10,10,9.9,9.9,9.9,9.9,9.8,9.7,9.7,9.5,9.3,9.3,9.3,9.3,8.5,7.5,16,20,19,13,10,12.5,11.5,11.5,11.3,11,10.8,10.7,10.5,10.3,10.2,10.1],
[10,10,10,10,9.9,9.9,9.9,9.9,9.8,9.7,9.7,9.5,9.3,9.3,9.3,7.5,17,20,20,20,16,9.5,13,11.5,11.5,11.3,11.2,11,10.8,10.7,10.5,10.3,10.2,10.1],
[10,10,10,10,9.9,9.9,9.9,9.9,9.8,9.7,9.7,9.5,9.3,9.3,9.3,9,18,20,20,17,9.5,13,12,11.7,11.5,11.3,11.2,11,10.8,10.7,10.5,10.3,10.2,10.1],
[10,10,10,10,9.9,9.9,9.9,9.9,9.8,9.7,9.7,9.5,9.3,9.3,9,15,20,19,16,14.5,14,12,12,11.7,11.5,11.3,11.2,11,10.8,10.7,10.5,10.3,10.2,10.1],
[10,10,10,10,9.9,9.9,9.9,9.9,9.8,9.7,9.7,9.5,9.3,10,14,20,20,17,14,13,12.5,12,12,11.7,11.5,11.3,11.2,11,10.8,10.7,10.5,10.3,10.2,10.1],
[10,10,10,10,9.9,9.9,9.9,9.9,9.8,9.7,9.7,9.5,10,13.5,20,17.5,13.5,13,12.5,12.5,12,12,11.7,11.5,11.3,11.2,11,10.8,10.7,10.5,10.3,10.2,10.1,10],
[10,10,10,10,9.9,9.9,9.9,9.9,9.8,9.7,9.7,9.5,11,15.5,15.5,13.5,13,13,12.5,12.5,12,12,11.7,11.5,11.3,11.2,11,10.8,10.7,10.5,10.3,10.2,10.1,10],
[10,10,10,10,9.9,9.9,9.9,9.9,9.8,9.7,9.7,10.5,13,14,13,13,12.5,12.5,12.5,12,12,11.7,11.5,11.5,11.3,11.2,11,10.8,10.7,10.5,10.3,10.2,10.1,10],
[10,10,10,10,9.9,9.9,9.9,9.9,9.8,9.7,9.7,12,12.5,12.5,12.5,12.5,12.3,12.3,12,12,11.8,11.7,11.5,11.5,11.3,11.2,11,10.8,10.7,10.5,10.3,10.2,10.1,10],
[10,10,10,10,9.9,9.9,9.9,9.9,9.8,9.7,11,12,12,12,12,12,12,11.8,11.8,11.7,11.5,11.5,11.3,11.3,11.2,11,10.8,10.7,10.5,10.3,10.2,10.1,10,10],
[10,10,10,10,9.9,9.9,9.9,9.9,9.8,10,10.7,11.5,11.7,11.7,11.7,11.7,11.7,11.5,11.5,11.5,11.3,11.3,11.2,11.2,11,11,10.8,10.7,10.5,10.3,10.2,10.1,10,10],
[10,10,10,10,9.9,9.9,9.9,9.9,10,10.5,11,11.3,11.5,11.5,11.5,11.5,11.5,11.3,11.3,11.3,11.2,11.2,11,11,10.8,10.8,10.7,10.5,10.3,10.2,10.1,10,10,10],
[10,10,10,10,10,10,10,10.2,10.5,10.7,11,11,11.2,11.2,11.2,11.2,11.2,11,11,11,11,10.8,10.8,10.7,10.7,10.5,10.5,10.3,10.2,10.1,10,10,10,10],
[10,10,10,10,10,10,10.2,10.4,10.6,10.7,10.8,11,11,11,11,11,10.8,10.8,10.8,10.8,10.7,10.7,10.7,10.5,10.5,10.5,10.3,10.3,10.2,10.1,10,10,10,10],
[10,10,10,10,10.1,10.2,10.4,10.5,10.6,10.7,10.7,10.8,10.8,10.8,10.8,10.7,10.7,10.7,10.7,10.5,10.5,10.5,10.5,10.3,10.3,10.3,10.2,10.2,10.1,10.1,10,10,10,10],
[10,10,10.1,10.1,10.2,10.3,10.4,10.4,10.5,10.5,10.5,10.5,10.5,10.5,10.5,10.4,10.4,10.4,10.3,10.3,10.3,10.3,10.2,10.2,10.2,10.1,10.1,10.1,10,10,10,10,10,10],
[10,10,10,10.1,10.1,10.2,10.2,10.3,10.3,10.3,10.3,10.3,10.3,10.3,10.3,10.3,10.2,10.2,10.2,10.2,10.2,10.2,10.1,10.1,10.1,10.1,10,10,10,10,10,10,10,10],
[10,10,10,10,10,10.1,10.1,10.1,10.1,10.1,10.2,10.2,10.2,10.2,10.2,10.2,10.2,10.1,10.1,10.1,10.1,10.1,10.1,10.1,10,10,10,10,10,10,10,10,10,10]
];
const cSigmaBy075 = [
[10,10,10,10,9.9,9.9,9.9,9.9,9.9,9.9,9.7,9.7,9.7,9.4,9.4,9.4,9.4,9.4,9.4,9.4,9.4,9.4,9.4,9.4,9.4,9.4,8.5,8.5,8,8,7,7,7,7.5],
[10,10,10,10,9.9,9.9,9.9,9.9,9.9,9.9,9.7,9.7,9.7,9.4,9.4,9.4,9.4,9.4,9.4,9.4,9.4,9.4,9.4,9.4,9.4,9.4,8.5,8,7.5,7.5,6.5,5,5,6.5],
[10,10,10,10,9.9,9.9,9.9,9.9,9.9,9.9,9.7,9.7,9.7,9.4,9.4,9.4,9.4,9.4,9.4,9.4,9.4,9.4,9.4,9.4,9.4,9.4,9.4,8,7.5,6,4.5,4,4.5,7],
[10,10,10,10,9.9,9.9,9.9,9.9,9.9,9.9,9.7,9.7,9.7,9.4,9.4,9.4,9.4,9.4,9.4,9.4,9.4,9.4,9.4,9.4,9.4,9.4,8.5,7,5,4,3,3.5,6,8.5],
[10,10,10,10,9.9,9.9,9.9,9.9,9.9,9.9,9.7,9.7,9.7,9.4,9.4,9.4,9.4,9.4,9.4,9.4,9.4,9.4,9.4,9.4,9.4,9.4,7.5,5.5,3.5,3,5,7,9,9.5],
[10,10,10,10,9.9,9.9,9.9,9.9,9.9,9.9,9.7,9.7,9.7,9.4,9.4,9.4,9.4,9.4,9.4,9.4,9.4,9.4,9.4,9.4,9.4,8,6,2.5,2.5,2.5,6,8.5,9.8,10],
[10,10,10,10,9.9,9.9,9.9,9.9,9.9,9.9,9.7,9.7,9.7,9.4,9.4,9.4,9.4,9.4,9.4,9.4,9.4,9.4,9.4,9.4,7.5,5,2.5,2,4,8,9.5,10,10,10],
[10,10,10,10,9.9,9.9,9.9,9.9,9.9,9.9,9.7,9.7,9.7,9.4,9.4,9.4,9.4,9.4,9.4,9.4,9.4,9.4,9.4,8,5,3,2,5.5,8.5,9.8,10,10,10,10],
[10,10,10,10,9.9,9.9,9.9,9.9,9.9,9.9,9.7,9.7,9.7,9.4,9.4,9.4,9.4,9.4,9.4,9.4,9.4,9.4,8.5,7,4,2.5,3,5,9,10,10,10,10,10],
[10,10,10,10,9.9,9.9,9.9,9.9,9.9,9.9,9.7,9.7,9.7,9.4,9.4,9.4,9.4,9.4,9.4,9.4,9.4,9,7,5,1.5,3.5,6,9.5,10,10,10,10,10,10],
[10,10,10,10,9.9,9.9,9.9,9.9,9.9,9.9,9.7,9.7,9.7,9.4,9.4,9.4,9.4,9.4,9.4,9.4,9,6.5,5,3.5,3.5,8,10.5,11,10.7,10.5,10.5,10.3,10.2,10],
[10,10,10,10,9.9,9.9,9.9,9.9,9.9,9.9,9.7,9.7,9.7,9.4,9.4,9.4,9.4,9.4,9.4,9,7,6,6,5.5,8.5,10.5,11.5,11,10.8,10.7,10.5,10.5,10.3,10.2],
[10,10,10,10,9.9,9.9,9.9,9.9,9.9,9.9,9.7,9.7,9.7,9.4,9.4,9.4,9.4,9.4,9.5,9,10,10.5,9,9.5,11,12,11.5,11,10.8,10.7,10.5,10.5,10.3,10.2],
[10,10,10,10,9.9,9.9,9.9,9.9,9.9,9.9,9.7,9.7,9.7,9.4,9.4,9.4,9.4,9.4,10,11,11.5,10.5,8.5,10.5,13,12,11.5,11,10.8,10.7,10.5,10.5,10.3,10.2],
[10,10,10,10,9.9,9.9,9.9,9.9,9.9,9.9,9.7,9.7,9.7,9.4,9.4,9.4,10.5,12,13,13.5,13.5,11,11,13.5,12,11.7,11.5,11,10.8,10.7,10.5,10.5,10.3,10.2],
[10,10,10,10,9.9,9.9,9.9,9.9,9.9,9.9,9.7,9.7,9.7,10.5,11,12,13,14,15.5,18,14,11,13,12,11.7,11.5,11.2,11,10.8,10.7,10.5,10.5,10.3,10.2],
[10,10,10,10,9.9,9.9,9.9,9.9,9.9,9.9,9.7,9.7,9.7,12,13,15,17,20,20,19,11.5,13,11.5,11.7,11.5,11.3,11.2,11,10.8,10.7,10.5,10.5,10.3,10.2],
[10,10,10,10,9.9,9.9,9.9,9.9,9.9,9.9,9.7,9.7,11,14,17,20,20,20,20,14,13,11.5,11.7,11.5,11.3,11.2,11,10.8,10.7,10.5,10.5,10.3,10.2,10.1],
[10,10,10,10,9.9,9.9,9.9,9.9,9.9,9.9,9.7,9.7,11.5,18,20,20,20,20,19,14,12.5,12,11.7,11.5,11.3,11.2,11,10.8,10.7,10.5,10.5,10.3,10.2,10.1],
[10,10,10,10,9.9,9.9,9.9,9.9,9.9,9.9,9.7,10.5,15,15.5,14,14,15,15.5,14.5,13.5,13,12.5,12,11.7,11.5,11.3,11,10.8,10.7,10.5,10.3,10.2,10.1,10],
[10,10,10,10,9.9,9.9,9.9,9.9,9.9,9.9,11,13.5,14,13,13,13,13.5,13.5,13.5,13,12.5,12,11.7,11.5,11.3,11,10.8,10.7,10.5,10.3,10.2,10.1,10,10],
[10,10,10,10,10,10,10.2,10.4,10.7,11.2,12.5,12.5,12.5,12.5,12.5,13,13,13,13,12.5,12.3,12,11.7,11.5,11.3,11,10.8,10.7,10.5,10.3,10.2,10.1,10,10],
[10,10,10.1,10.2,10.4,10.5,10.7,10.8,11,11.2,11.5,11.7,12,12,12,12.3,12.5,12.5,12.5,12.3,12,11.8,11.5,11.3,11.2,11,10.8,10.7,10.5,10.3,10.2,10.1,10,10],
[10,10,10.1,10.3,10.5,10.6,10.8,10.9,11,11.2,11.3,11.5,11.7,11.7,11.8,12,12,12,12,11.8,11.7,11.5,11.3,11.2,11,10.8,10.8,10.7,10.5,10.3,10.2,10.1,10,10],
[9.9,10,10.1,10.3,10.4,10.6,10.7,10.8,10.9,11,11.2,11.3,11.5,11.5,11.7,11.8,11.8,11.8,11.8,11.7,11.5,11.3,11.2,11,11,10.8,10.7,10.5,10.5,10.3,10.2,10.1,10,10],
[10,10,10.1,10.3,10.5,10.6,10.7,10.8,10.8,11,11,11.2,11.3,11.3,11.5,11.5,11.5,11.5,11.5,11.5,11.3,11.2,11,11,10.8,10.7,10.7,10.5,10.3,10.2,10.1,10.1,10,10],
[10,10,10.1,10.2,10.4,10.5,10.6,10.7,10.7,10.8,10.8,11,11,11.2,11.2,11.3,11.3,11.3,11.3,11.3,11.2,11,11,10.8,10.7,10.7,10.5,10.5,10.3,10.2,10.1,10,10,10],
[10,10,10,10.1,10.2,10.4,10.5,10.5,10.6,10.7,10.7,10.8,10.8,11,11,11,11,11,11,11,11,10.8,10.8,10.7,10.7,10.5,10.5,10.3,10.2,10.1,10,10,10,10],
[10,10,10,10,10.1,10.2,10.3,10.4,10.5,10.5,10.6,10.7,10.7,10.8,10.8,10.8,10.8,10.8,10.8,10.8,10.7,10.7,10.6,10.5,10.5,10.3,10.3,10.2,10.1,10,10,10,10,10],
[10,10,10,10,10,10.1,10.2,10.2,10.3,10.4,10.4,10.5,10.5,10.6,10.6,10.7,10.7,10.7,10.7,10.6,10.6,10.5,10.5,10.4,10.3,10.2,10.2,10.1,10,10,10,10,10,10],
[10,10,10,10,10,10,10.1,10.1,10.2,10.2,10.3,10.3,10.4,10.4,10.5,10.5,10.5,10.5,10.5,10.4,10.4,10.3,10.3,10.2,10.2,10.1,10.1,10,10,10,10,10,10,10],
[10,10,10,10,10,10,10,10,10.1,10.1,10.2,10.2,10.2,10.3,10.3,10.3,10.3,10.3,10.3,10.2,10.2,10.2,10.1,10.1,10.1,10,10,10,10,10,10,10,10,10],
[10,10,10,10,10,10,10,10,10,10,10.1,10.1,10.1,10.1,10.2,10.2,10.2,10.2,10.1,10.1,10.1,10.1,10,10,10,10,10,10,10,10,10,10,10,10],
[10,10,10,10,10,10,10,10,10,10,10,10,10,10,10,10,10,10,10,10,10,10,10,10,10,10,10,10,10,10,10,10,10,10]
];

// Sink particle positions in units of 10^4 au, one per panel
const sinkX = [0, 0, 0, 0.005, -0.005, 0.01];
const sinkY = [0.015, 0.08, 0.006, 0, -0.015, -0.004];

// Finely resolved structures, in units of 10^4 au
const armUpperBy025X = [0.084, 0.176, 0.22, 0.236];
const armUpperBy025Y = [0.016, 0.112, 0.244, 0.34];
const armLowerBy025X = [-0.04, -0.084, -0.102];
const armLowerBy025Y = [-0.052, -0.164, -0.264];
const crescentBy050X = [0.022, 0.12, 0.234, 0.348, 0.446, 0.512, 0.397, 0.266, 0.12];
const crescentBy050Y = [-0.018, -0.027, 0.006, 0.112, 0.26, 0.373, 0.422, 0.292, 0.145];
const crescentBy075X = [0.013, 0.129, 0.228, 0.327, 0.41, 0.48, 0.377, 0.244, 0.096, -0.02];
const crescentBy075Y = [-0.068, -0.059, 0.014, 0.128, 0.226, 0.27, 0.357, 0.226, 0.112, 0.048];
const blobBy025X = [-0.055, -0.022, 0.031, 0.065, 0.098, 0.091, 0.111, 0.045, -0.049, -0.062];
const blobBy025Y = [0.008, 0.041, 0.041, 0.061, 0.055, 0.008, -0.039, -0.079, -0.085, -0.044];
const wispBy025X = [0.105, 0.165, 0.205, 0.238];
const wispBy025Y = [-0.045, 0.021, 0.115, 0.195];
const blobBy050X = [-0.051, -0.025, 0.022, 0.069, 0.155, 0.189, 0.155, 0.089, 0.009, -0.071];
const blobBy050Y = [-0.005, 0.041, 0.048, 0.028, 0.028, 0.015, -0.025, -0.059, -0.079, -0.072];
const arcBy050X = [0.03, 0.177, 0.291, 0.389, 0.454, 0.504];
const arcBy050Y = [-0.099, -0.09, -0.023, 0.078, 0.212, 0.33];
const blobBy075X = [-0.121, -0.03, 0.052, 0.19, 0.19, 0.126, 0.028, -0.047, -0.121];
const blobBy075Y = [-0.057, 0.061, 0.095, 0.14, 0.095, -0.057, -0.079, -0.062, -0.099];
const arcBy075X = [0.168, 0.267, 0.366];
const arcBy075Y = [-0.032, 0.053, 0.179];

// Axis tick values
const majorTicks = [-1, -0.75, -0.5, -0.25, 0, 0.25, 0.5, 0.75, 1];
const minorTicks = [-0.9375, -0.875, -0.8125, -0.6875, -0.625, -0.5625, -0.4375, -0.375, -0.3125, -0.1875, -0.125, -0.0625, 0.0625, 0.125, 0.1875, 0.3125, 0.375, 0.4375, 0.5625, 0.625, 0.6875, 0.8125, 0.875, 0.9375];
const colorbarLogTicks = [3, 2, 1, 0.5, 0.3, 0.2, 0.1, 0.05, 0.03, 0.02, 0.01, 0.005, 0.003];

const SVGNS = 'http://www.w3.org/2000/svg';
const levelColors = ['#6e0d0d','#731616','#7a1f36','#80285a','#85307e','#8b36a4','#8d3cc8','#8348e4','#7a58f2','#6672ec','#4e8fdf','#42a0d0','#36b4c0','#2cc8a8','#2ad49a','#4cdf84','#70e470','#9cea54','#c0ee44','#e4ef38','#fff133'];

function hexToRgb(h){ return [parseInt(h.substr(1,2),16),parseInt(h.substr(3,2),16),parseInt(h.substr(5,2),16)]; }
function colorOf(v){
  const c = Math.max(0, Math.min(20, v));
  const i = Math.min(19, Math.floor(c));
  const f = c - i;
  const a = hexToRgb(levelColors[i]);
  const b = hexToRgb(levelColors[i + 1]);
  return 'rgb(' + [0,1,2].map(function(k){ return Math.round(a[k] + (b[k] - a[k]) * f); }).join(',') + ')';
}
function make(parent, tag, attrs){
  const el = document.createElementNS(SVGNS, tag);
  Object.keys(attrs).forEach(function(k){ el.setAttribute(k, attrs[k]); });
  parent.appendChild(el);
  return el;
}

const gradient = document.getElementById('cbarGradient');
levelColors.forEach(function(col, i){
  make(gradient, 'stop', {offset: (i / 20), 'stop-color': col});
});

const panels = [
  {key:'by025-sigma', left:116, right:618, top:74.7, bottom:577, bar:637, rows:sigmaBy025, base:0, log:true, sink:0},
  {key:'by050-sigma', left:741, right:1244, top:74.7, bottom:577, bar:1262.5, rows:sigmaBy050, base:0, log:true, sink:1},
  {key:'by075-sigma', left:1371, right:1874, top:74.7, bottom:577, bar:1893, rows:sigmaBy075, base:0, log:true, sink:2},
  {key:'by025-csigma', left:114, right:617, top:651.5, bottom:1153.5, bar:636, rows:cSigmaBy025, base:10, log:false, sink:3},
  {key:'by050-csigma', left:743, right:1246, top:651.5, bottom:1153.5, bar:1264, rows:cSigmaBy050, base:10, log:false, sink:4},
  {key:'by075-csigma', left:1370, right:1872.5, top:651.5, bottom:1153.5, bar:1891, rows:cSigmaBy075, base:10, log:false, sink:5}
];

function xAxis(p, v){ return (p.left + p.right) / 2 + v * 250; }
function yAxis(p, v){ return (p.top + p.bottom) / 2 - v * 250; }
function pointsOf(p, xs, ys){
  return xs.map(function(x, i){ return xAxis(p, x).toFixed(1) + ',' + yAxis(p, ys[i]).toFixed(1); }).join(' ');
}

const root = document.getElementById('plots');

function drawPanel(p, index){
  const g = make(root, 'g', {});
  
  
  const clip = make(document.querySelector('defs'), 'clipPath', {id:'clip' + index});
  make(clip, 'rect', {x:p.left, y:p.top, width:p.right - p.left, height:p.bottom - p.top});

  const bg = make(g, 'rect', {x:p.left, y:p.top, width:p.right - p.left, height:p.bottom - p.top, fill:colorOf(p.base)});
  
  

  const heat = make(g, 'g', {'clip-path':'url(#clip' + index + ')', 'shape-rendering':'crispEdges'});
  
  
  const nRows = p.rows.length;
  const cellH = (p.bottom - p.top) / nRows;
  p.rows.forEach(function(row, j){
    const cellW = (p.right - p.left) / row.length;
    row.forEach(function(v, i){
      const cell = make(heat, 'rect', {x:(p.left + i * cellW).toFixed(2), y:(p.top + j * cellH).toFixed(2), width:(cellW + 0.6).toFixed(2), height:(cellH + 0.6).toFixed(2), fill:colorOf(v)});
      
      
    });
  });

  const fine = make(g, 'g', {'clip-path':'url(#clip' + index + ')'});
  
  
  p.fine = fine;

  const bar = make(g, 'rect', {x:p.right, y:p.top, width:p.bar - p.right, height:p.bottom - p.top, fill:'url(#cbarGradient)'});
  
  

  const frame = make(g, 'rect', {x:p.left, y:p.top, width:p.bar - p.left, height:p.bottom - p.top, fill:'none', stroke:'#5c6468', 'stroke-width':1.2});
  
  
  const divider = make(g, 'line', {x1:p.right, x2:p.right, y1:p.top, y2:p.bottom, stroke:'#1a1a1a', 'stroke-width':1.2});
  
  

  const ticks = make(g, 'g', {stroke:'#333', 'stroke-width':0.7});
  
  
  function drawTicks(list, len){
    list.forEach(function(v){
      const x = xAxis(p, v), y = yAxis(p, v);
      const marks = [
        [x, p.top, x, p.top + len],
        [x, p.bottom, x, p.bottom - len],
        [p.left, y, p.left + len, y],
        [p.right, y, p.right - len, y]
      ];
      marks.forEach(function(m){
        const t = make(ticks, 'line', {x1:m[0], y1:m[1], x2:m[2], y2:m[3]});
        
        
      });
    });
  }
  drawTicks(majorTicks, 4);
  drawTicks(minorTicks, 2);

  const barTicks = make(g, 'g', {stroke:'#222', 'stroke-width':0.8});
  
  
  const midY = (p.top + p.bottom) / 2;
  if (p.log) {
    colorbarLogTicks.forEach(function(v){
      const y = midY - 3.6 - 157 * (Math.log10(v) + 1);
      const decade = Math.abs(Math.log10(v) - Math.round(Math.log10(v))) < 0.001;
      const t = make(barTicks, 'line', {x1:p.bar, x2:p.bar - (decade ? 5 : 3), y1:y, y2:y});
      
      
    });
  } else {
    const t = make(barTicks, 'line', {x1:p.bar, x2:p.bar - 5, y1:midY, y2:midY});
    
    
  }
}
panels.forEach(drawPanel);

function drawPatch(p, xs, ys, level, alpha, blurId, edgeLevel, name){
  const attrs = {points:pointsOf(p, xs, ys), fill:colorOf(level), opacity:alpha, filter:'url(#' + blurId + ')'};
  if (edgeLevel !== null) {
    attrs.stroke = colorOf(edgeLevel);
    attrs['stroke-width'] = 3;
    attrs['stroke-linejoin'] = 'round';
    attrs['paint-order'] = 'stroke';
  }
  const el = make(p.fine, 'polygon', attrs);
  
  
}
function drawStream(p, xs, ys, level, width, alpha, blurId, name){
  const el = make(p.fine, 'polyline', {points:pointsOf(p, xs, ys), fill:'none', stroke:colorOf(level), 'stroke-width':width, 'stroke-linecap':'round', 'stroke-linejoin':'round', opacity:alpha, filter:'url(#' + blurId + ')'});
  
  
}
function drawDisc(p, xOffset, yOffset, glowR, ringR, ringW){
  const cx = xAxis(p, sinkX[p.sink] + xOffset);
  const cy = yAxis(p, sinkY[p.sink] + yOffset);
  const glow = make(p.fine, 'circle', {cx:cx, cy:cy, r:glowR * 250, fill:colorOf(15), filter:'url(#soft)'});
  
  
  const ring = make(p.fine, 'circle', {cx:cx, cy:cy, r:ringR * 250, fill:colorOf(17), stroke:colorOf(20), 'stroke-width':ringW, filter:'url(#soft)'});
  
  
}

drawStream(panels[0], armUpperBy025X, armUpperBy025Y, 15, 14, 0.6, 'softer', 'stream-upper');
drawStream(panels[0], armLowerBy025X, armLowerBy025Y, 14.5, 14, 0.6, 'softer', 'stream-lower');
drawDisc(panels[0], 0.005, -0.012, 0.07, 0.04, 3);

drawPatch(panels[1], crescentBy050X, crescentBy050Y, 13.5, 0.6, 'softer', null, 'accretion-crescent');
drawDisc(panels[1], -0.005, -0.008, 0.07, 0.04, 3);

drawPatch(panels[2], crescentBy075X, crescentBy075Y, 13, 0.6, 'softer', null, 'accretion-crescent');
drawDisc(panels[2], 0, 0, 0.06, 0.03, 5);

drawPatch(panels[3], blobBy025X, blobBy025Y, 20, 1, 'soft', 14, 'core-blob');
drawStream(panels[3], wispBy025X, wispBy025Y, 20, 9, 0.9, 'soft', 'wisp');

drawPatch(panels[4], blobBy050X, blobBy050Y, 20, 1, 'soft', 14, 'core-blob');
drawStream(panels[4], arcBy050X, arcBy050Y, 14, 3.5, 0.9, 'soft', 'shock-arc');

drawPatch(panels[5], blobBy075X, blobBy075Y, 20, 1, 'soft', null, 'core-blob');
drawStream(panels[5], arcBy075X, arcBy075Y, 15, 3.5, 0.9, 'soft', 'shock-arc');

panels.forEach(function(p){
  const dot = make(p.fine, 'circle', {cx:xAxis(p, sinkX[p.sink]), cy:yAxis(p, sinkY[p.sink]), r:3.2, fill:'#000'});
  
  
});
</script>
</body>
</html>
